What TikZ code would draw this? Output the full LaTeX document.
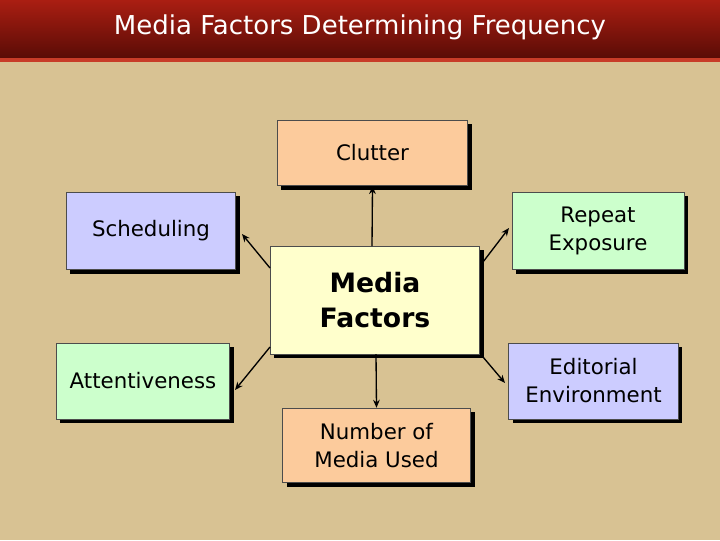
\documentclass[tikz,border=0pt]{standalone}
\usepackage{fontspec}
\setmainfont{DejaVu Sans}
\usetikzlibrary{arrows.meta,shadows}
\definecolor{bg}{HTML}{D8C293}
\definecolor{peach}{HTML}{FCCB9C}
\definecolor{lav}{HTML}{CCCCFF}
\definecolor{mint}{HTML}{CCFFCC}
\definecolor{cream}{HTML}{FFFFCC}
\definecolor{ttop}{HTML}{AA1E12}
\definecolor{tbot}{HTML}{5A0C06}
\definecolor{tline}{HTML}{C83C28}
\tikzset{
 box/.style={draw=black!70,line width=0.6pt,align=center,font=\fontsize{16}{21}\selectfont,inner sep=0pt,
   drop shadow={shadow xshift=3pt,shadow yshift=-3pt,fill=black,opacity=1}},
 conn/.style={-{Stealth[length=6pt,width=5pt]},line width=1pt}
}
\begin{document}
\begin{tikzpicture}[x=0.75pt,y=-0.75pt]
\useasboundingbox (0,0) rectangle (720,540);
\fill[bg] (0,0) rectangle (720,540);
\shade[top color=ttop,bottom color=tbot] (0,0) rectangle (720,58);
\fill[tline] (0,58) rectangle (720,62);
\node[text=white,font=\fontsize{19.5}{23}\selectfont] (title) at (360,27) {Media Factors Determining Frequency};
\node[box,fill=peach,minimum width=143pt,minimum height=49pt] (clutter) at (372.5,153) {Clutter};
\node[box,fill=lav,minimum width=127pt,minimum height=58pt] (sched) at (151,231) {Scheduling};
\node[box,fill=mint,minimum width=129pt,minimum height=58pt] (repeat) at (598,231) {Repeat\\Exposure};
\node[box,fill=cream,minimum width=157pt,minimum height=81pt,font=\fontsize{20}{26}\selectfont\bfseries] (mf) at (375,300) {Media\\Factors};
\node[box,fill=mint,minimum width=130pt,minimum height=57pt] (att) at (143,381) {Attentiveness};
\node[box,fill=lav,minimum width=127pt,minimum height=57pt] (edit) at (593.5,381) {Editorial\\Environment};
\node[box,fill=peach,minimum width=141pt,minimum height=56pt] (num) at (376.5,445.5) {Number of\\Media Used};
\draw[conn] (372,246) -- (clutter.south);
\draw[conn] (376,354) -- (num.north);
\draw[conn] (270,268) -- (242,234);
\draw[conn] (483,262) -- (509,228);
\draw[conn] (270,347) -- (235,390);
\draw[conn] (483,357) -- (505,383);
\end{tikzpicture}
\end{document}
